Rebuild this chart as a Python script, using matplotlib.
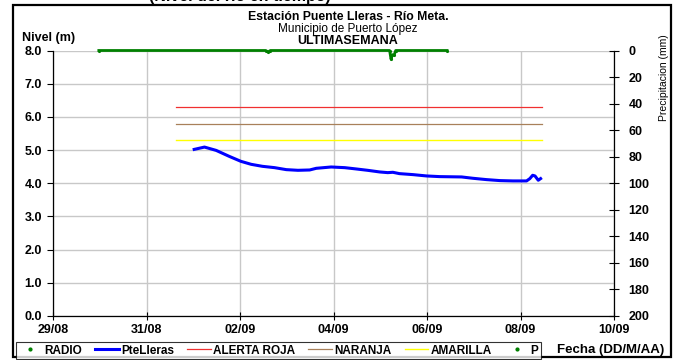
import matplotlib
matplotlib.use("Agg")
import matplotlib.pyplot as plt
from matplotlib.lines import Line2D
from matplotlib.patches import Rectangle

plt.rcParams['font.family'] = ['Liberation Sans', 'DejaVu Sans']

# days counted from 29/08 00:00
date_labels = ['29/08', '31/08', '02/09', '04/09', '06/09', '08/09', '10/09']
date_ticks = [0, 2, 4, 6, 8, 10, 12]

# PteLleras water level (m)
level_days = [3.02, 3.24, 3.49, 3.77, 4.02, 4.24, 4.48, 4.74, 4.99, 5.24, 5.49, 5.63,
              5.95, 6.24, 6.49, 6.73, 6.99, 7.16, 7.27, 7.41, 7.70, 7.99, 8.27, 8.74,
              8.98, 9.27, 9.56, 9.84, 10.13, 10.20, 10.26, 10.31, 10.38, 10.43]
level_vals = [5.02, 5.09, 4.99, 4.81, 4.66, 4.57, 4.51, 4.47, 4.41, 4.39, 4.40, 4.45,
              4.49, 4.47, 4.43, 4.39, 4.34, 4.32, 4.33, 4.29, 4.26, 4.22, 4.20, 4.19,
              4.15, 4.11, 4.08, 4.07, 4.07, 4.14, 4.24, 4.22, 4.09, 4.14]

# alert thresholds (m)
alert_days = [2.63, 10.47]
roja = [6.3, 6.3]
naranja = [5.8, 5.8]
amarilla = [5.3, 5.3]

# precipitation (mm)
p_days = [0.98, 4.55, 4.60, 4.65, 7.20, 7.23, 7.26, 7.30, 7.33, 8.43]
p_vals = [0, 0, 1.0, 0, 0, 6.5, 3.2, 3.2, 0, 0]

fig = plt.figure(figsize=(6.76, 3.6), dpi=100)
ax = fig.add_axes([53 / 676, 1 - 316 / 360, 561 / 676, 265.5 / 360])
ax2 = ax.twinx()

fs = 9
bold = dict(fontsize=fs, fontweight='bold')

ax.plot(alert_days, roja, color='#F03030', lw=0.9)
ax.plot(alert_days, naranja, color='#A8805A', lw=0.9)
ax.plot(alert_days, amarilla, color='#FFFF00', lw=1.0)
ax.plot(level_days, level_vals, color='#0000FF', lw=2.2, zorder=5)

ax2.plot(p_days, p_vals, color='#008000', lw=2.0, marker='.', ms=2.5, zorder=5,
         clip_on=False)

ax.set_xlim(0, 12)
ax.set_ylim(0, 8)
ax2.set_ylim(200, 0)

ax.set_xticks(date_ticks)
ax.set_xticklabels(date_labels, **bold)
ax.set_yticks(range(9))
ax.set_yticklabels([f'{v:.1f}' for v in range(9)], **bold)
ax2.set_yticks(range(0, 201, 20))
ax2.set_yticklabels([str(v) for v in range(0, 201, 20)], **bold)

ax.grid(True, color='#C8C8C8', lw=1.0)
ax.set_axisbelow(True)
ax.tick_params(axis='y', direction='out', length=4, width=0.8, pad=4)
ax.tick_params(axis='x', direction='inout', length=6, width=0.8, pad=3)
ax2.tick_params(axis='y', direction='inout', length=7, width=0.8, pad=7)

for s in ['top', 'right']:
    ax.spines[s].set_visible(False)
for s in ['top', 'left', 'bottom']:
    ax2.spines[s].set_visible(False)
for a in (ax, ax2):
    for s in a.spines.values():
        s.set_linewidth(0.9)

def px(x, y):
    return x / 676, 1 - y / 360

fig.text(*px(240, 1.5), '(Nivel del río en tiempo)', fontsize=11.5, fontweight='bold',
         ha='center', va='baseline')
fig.text(*px(348, 17), 'Estación Puente Lleras - Río Meta.', ha='center', va='center',
         fontsize=8.8, fontweight='bold')
fig.text(*px(348, 29), 'Municipio de Puerto López', ha='center', va='center', fontsize=8.5)
fig.text(*px(348, 41), 'ULTIMASEMANA', ha='center', va='center', fontsize=9,
         fontweight='bold')
fig.text(*px(22, 38), 'Nivel (m)', ha='left', va='center', **bold)
fig.text(*px(664, 78), 'Precipitacion (mm)', ha='center', va='center', rotation=90,
         fontsize=7.5)
fig.text(*px(611, 350), 'Fecha (DD/M/AA)', ha='center', va='center', fontsize=9.5,
         fontweight='bold')

handles = [
    Line2D([], [], color='#008000', marker='.', ms=4, ls='none'),
    Line2D([], [], color='#0000FF', lw=2.2),
    Line2D([], [], color='#F03030', lw=0.9),
    Line2D([], [], color='#A8805A', lw=0.9),
    Line2D([], [], color='#FFFF00', lw=1.0),
    Line2D([], [], color='#008000', marker='.', ms=4, ls='none'),
]
labels = ['RADIO', 'PteLleras', 'ALERTA ROJA', 'NARANJA', 'AMARILLA', 'P']
leg = fig.legend(handles, labels, ncol=6, loc='center', bbox_to_anchor=px(278.5, 350.5),
                 prop=dict(size=8.5, weight='bold'), frameon=True, fancybox=False,
                 edgecolor='black', handlelength=2.0, handletextpad=0.2,
                 columnspacing=1.1, borderpad=0.2, borderaxespad=0)
leg.get_frame().set_linewidth(0.8)

fig.add_artist(Rectangle(px(13, 357), 658 / 676, 352 / 360, transform=fig.transFigure,
                         fill=False, ec='black', lw=1.6))

fig.savefig('out.png', dpi=100)
